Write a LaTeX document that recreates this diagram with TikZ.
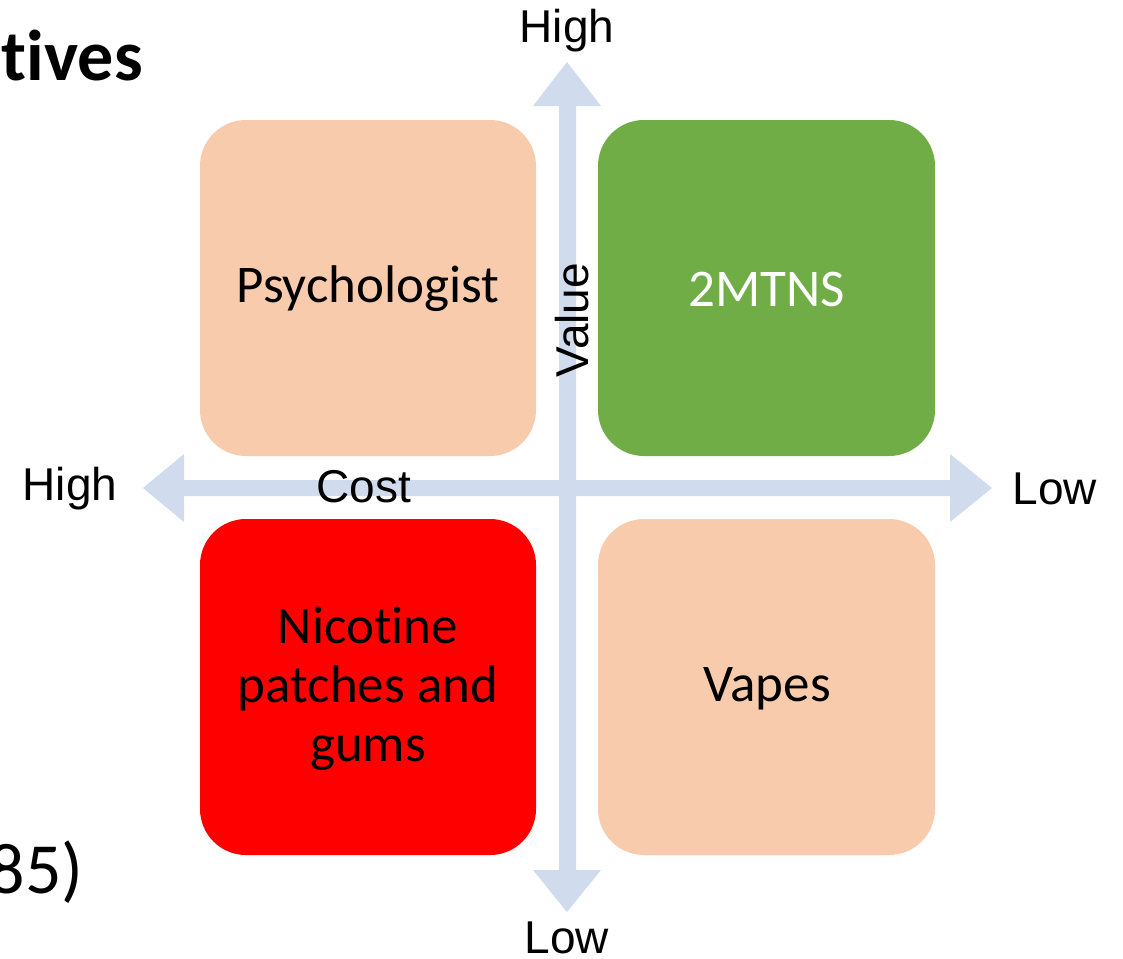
\documentclass[tikz,border=0pt]{standalone}
\usepackage{fontspec}
\setmainfont{Carlito}[Ligatures={NoCommon,NoContextual,NoRequired}]
\newfontfamily\arialf{Liberation Sans}
\definecolor{axisblue}{HTML}{D0DCEE}
\definecolor{peach}{HTML}{F8CBAD}
\definecolor{okgreen}{HTML}{70AD47}
\definecolor{badred}{HTML}{FF0000}
\tikzset{
  quad/.style={rounded corners=46pt, draw=none},
  boxtext/.style={font=\fontsize{53}{59}\selectfont, align=center, text=black},
  axlabel/.style={font=\arialf\fontsize{46}{52}\selectfont, text=black, inner sep=0pt},
  sidetext/.style={font=\fontsize{72}{80}\selectfont, inner sep=0pt, text=black}
}
\begin{document}
\begin{tikzpicture}[x=1pt,y=-1pt]
\useasboundingbox (0,0) rectangle (1123,958);
% axes
\fill[axisblue] (143,488) -- (184,454) -- (184,480) -- (950,480) -- (950,454) -- (992,488) -- (950,522) -- (950,496) -- (184,496) -- (184,522) -- cycle;
\fill[axisblue] (567,62) -- (601,106) -- (576,106) -- (576,870) -- (601,870) -- (567,912) -- (533,870) -- (559,870) -- (559,106) -- (533,106) -- cycle;
% quadrants
\fill[quad, peach] (200,120) rectangle (536,456);
\fill[quad, okgreen] (598,120) rectangle (935,456);
\fill[quad, badred] (200,519) rectangle (536,855);
\fill[quad, peach] (598,519) rectangle (935,855);
\node[boxtext] (psy) at (368,289) {Psychologist};
\node[boxtext, text=white] (mtns) at (767,289) {2MTNS};
\node[boxtext] (nic) at (368,689) {Nicot{}ine\\patches and\\gums};
\node[boxtext] (vap) at (767,689) {Vapes};
% axis labels
\node[axlabel] (hightop) at (567,31) {High};
\node[axlabel] (lowbot) at (567,938) {Low};
\node[axlabel] (highleft) at (70,489) {High};
\node[axlabel] (lowright) at (1055,489) {Low};
\node[axlabel] (cost) at (364,487) {Cost};
\node[axlabel, rotate=90] (value) at (572,320) {Value};
% cut-off slide text
\node[sidetext, anchor=base east, font=\bfseries\fontsize{72}{80}\selectfont] (tives) at (143,80) {t{}ives};
\node[sidetext, anchor=base east] (num) at (84,893) {85)};
\end{tikzpicture}
\end{document}
